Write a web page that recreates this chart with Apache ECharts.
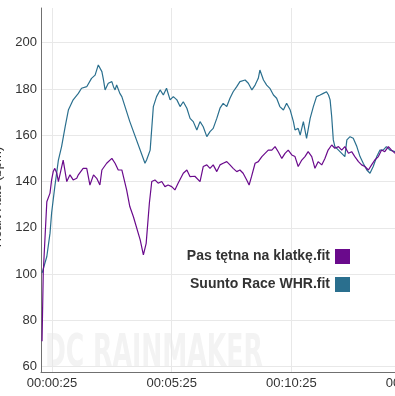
<!DOCTYPE html>
<html>
<head>
<meta charset="utf-8">
<script src="https://cdn.jsdelivr.net/npm/echarts@6/dist/echarts.min.js"></script>
<style>
  html, body { margin: 0; padding: 0; background: #ffffff; }
  #chart { width: 395px; height: 396px; }
</style>
</head>
<body>
<div id="chart"></div>
<script>
// ---- data (elapsed seconds, heart rate in bpm) ----
const seriesNames = ['Pas tętna na klatkę.fit', 'Suunto Race WHR.fit'];

const chestTime = [0,3,8,12,20,24,28,32,37,41,45,53,62,70,74,78,87,91,95,103,112,116,120,129,133,137,145,150,154,162,166,175,183,191,200,212,220,229,246,254,261,264,269,275,283,291,300,308,316,325,333,341,354,363,371,383,396,404,413,421,429,438,446,454,463,471,479,488,496,504,513,519,525,534,542,551,559,567,576,584,592,601,609,617,626,634,642,651,659,667,676,684,692,701,709,717,726,734,743,751,759,768,776,784,793,801,809,818,826,834,843,851,859,868,876,885];
const chestHR = [71,100.4,117.7,131.3,135,140.7,144.3,145.7,143.6,140,140.7,149.3,140,142.9,143.6,140.7,141.4,142.9,143.6,145.7,145.7,142.1,138.5,142.9,142.9,141.4,138.5,145,145.7,147.9,147.9,150,147.9,145,145,136.4,129.2,124.8,114.8,108.3,113.3,113.3,130.6,140,140.7,139.3,140,137.8,138.5,137.8,136.4,139.3,143.6,145,142.1,142.3,140,146.5,147.2,145.7,147.2,144.3,147.2,147.9,148.6,147.2,145.7,144.3,145,143.6,140.7,138.5,142.1,147.9,148.6,150.8,152.2,153.6,153.6,155.1,152.9,150,152.2,153.6,151.5,150.8,146.5,149.3,150.8,152.9,150.8,145.7,148.6,147.2,150,153.6,155.8,154.4,155.1,153.6,155.1,152.2,152.9,150.8,148.6,147.2,146.5,145,147.2,149.3,150.8,153.6,152.9,155.1,153.6,152.2];

const wristTime = [0,12,20,24,32,41,49,58,66,78,91,99,112,124,133,141,150,154,158,166,175,179,183,187,195,200,220,258,262,271,279,287,296,304,312,321,329,338,346,354,363,371,379,388,396,404,413,421,429,438,446,454,463,471,479,488,496,509,517,526,534,542,546,555,563,571,580,588,596,605,613,622,630,634,642,647,655,663,672,680,688,697,705,713,718,722,726,730,734,743,751,759,764,772,780,789,797,805,814,822,830,839,847,855,863,872,885];
const wristHR = [100.4,107.6,117.7,126.4,137.8,149.3,155.1,163.7,170.9,175.3,178.1,180.3,181,184.6,186,190.4,187.5,183.9,179.6,182.5,183.2,181,179.6,181.7,178.1,176.7,165.9,147.9,149.3,153.6,172.4,176.7,179.6,177.4,180.3,175.3,176.7,175.3,172.4,174.5,171.7,167.3,165.9,162.3,165.9,163.7,159.4,161.6,163,167.3,171.7,173.8,172.4,176,178.8,181,183.2,183.9,182.5,179.6,181.7,184.6,188.2,183.9,181.7,180.3,177.4,176,172.4,170.9,173.8,170.9,165.9,162.3,163,160.1,165.9,158.7,167.3,172.4,176.7,177.4,178.1,178.8,177.4,175.3,168,158,155.1,153.6,152.2,150.8,158,159.4,158.7,155.1,150.8,147.9,145,143.6,146.5,150.8,153.6,153.6,155.1,153.6,152.9];

// axis settings
const xTickOrigin = 25;          // ticks fall at 00:00:25, 00:05:25, ...
const xTickStep = 300;
const xRange = [-2.6, 947.3];    // seconds
const yRange = [57.7, 215];
const yTickStep = 20;

const colors = ['#6a0a8c', '#2a6f8e'];
const FONT = "'Liberation Sans', Arial, sans-serif";

function fmtTime(sec) {
  const s = Math.round(sec);
  const h = Math.floor(s / 3600), m = Math.floor((s % 3600) / 60), ss = s % 60;
  const p = n => String(n).padStart(2, '0');
  return p(h) + ':' + p(m) + ':' + p(ss);
}
function near(v, step) { return Math.abs(v / step - Math.round(v / step)) < 1e-6; }

const toPts = (ts, vs) => ts.map((t, i) => [t - xTickOrigin, vs[i]]);

const chart = echarts.init(document.getElementById('chart'), null, { renderer: 'canvas' });
chart.setOption({
  animation: false,
  backgroundColor: '#ffffff',
  grid: { left: 41, right: -25, top: 8, bottom: 24, containLabel: false, outerBoundsMode: 'none' },
  xAxis: {
    type: 'value',
    min: xRange[0] - xTickOrigin,
    max: xRange[1] - xTickOrigin,
    minInterval: xTickStep, maxInterval: xTickStep,
    axisLine: { show: true, onZero: false, lineStyle: { color: '#707070', width: 1 } },
    axisTick: { show: false },
    splitLine: { show: true, showMinLine: false, showMaxLine: false, lineStyle: { color: '#e8e8e8', width: 1 } },
    axisLabel: {
      showMinLabel: false, showMaxLabel: false, hideOverlap: false,
      margin: 5, color: '#333', fontSize: 13, fontFamily: FONT,
      formatter: v => near(v, xTickStep) ? fmtTime(v + xTickOrigin) : ''
    }
  },
  yAxis: {
    type: 'value',
    min: yRange[0], max: yRange[1],
    minInterval: yTickStep, maxInterval: yTickStep,
    axisLine: { show: true, onZero: false, lineStyle: { color: '#707070', width: 1 } },
    axisTick: { show: false },
    splitLine: { show: true, showMinLine: false, showMaxLine: false, lineStyle: { color: '#e8e8e8', width: 1 } },
    axisLabel: {
      showMinLabel: false, showMaxLabel: false,
      margin: 4, color: '#333', fontSize: 13, fontFamily: FONT,
      formatter: v => near(v, yTickStep) ? String(Math.round(v)) : ''
    }
  },
  legend: {
    data: seriesNames,
    orient: 'vertical',
    align: 'right',
    right: 45, top: 249, padding: 0,
    itemWidth: 15, itemHeight: 15, itemGap: 13,
    icon: 'rect',
    textStyle: { fontSize: 14, fontWeight: 'bold', color: '#333', fontFamily: FONT }
  },
  graphic: [
    {
      type: 'text', z: -10, silent: true,
      x: 45, y: 377, scaleX: 0.635,
      style: {
        text: 'DC RAINMAKER', fill: '#f3f3f3',
        font: "bold 44px 'Liberation Sans Narrow', 'DejaVu Sans Condensed', sans-serif",
        textAlign: 'left', textVerticalAlign: 'bottom'
      }
    },
    {
      type: 'text', silent: true,
      x: -3, y: 197, rotation: Math.PI / 2,
      style: {
        text: 'Heart Rate (bpm)', fill: '#333',
        font: "13px 'Liberation Sans', Arial, sans-serif",
        textAlign: 'center', textVerticalAlign: 'middle'
      }
    }
  ],
  series: [
    {
      name: seriesNames[1], type: 'line', showSymbol: false, symbol: 'none',
      data: toPts(wristTime, wristHR),
      itemStyle: { color: colors[1] },
      lineStyle: { color: colors[1], width: 1.2 }, z: 2
    },
    {
      name: seriesNames[0], type: 'line', showSymbol: false, symbol: 'none',
      data: toPts(chestTime, chestHR),
      itemStyle: { color: colors[0] },
      lineStyle: { color: colors[0], width: 1.2 }, z: 3
    }
  ]
});
</script>
</body>
</html>
